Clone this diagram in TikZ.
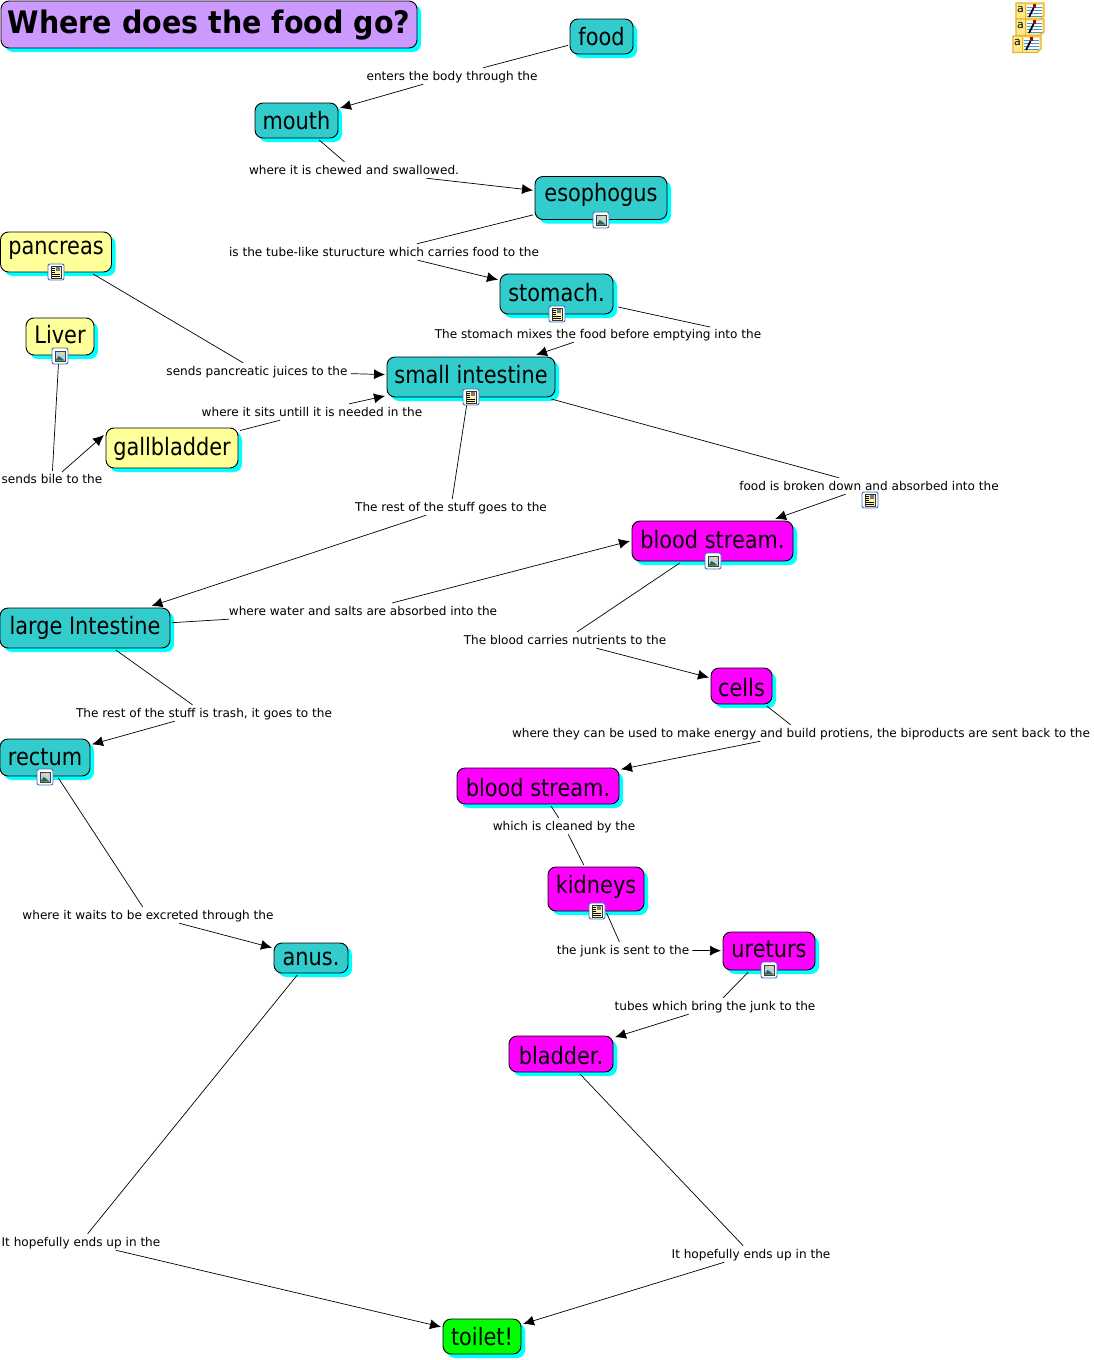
\documentclass[tikz,border=0pt]{standalone}
\usepackage{fontspec}
\setmainfont{DejaVu Sans}
\newfontfamily\conceptfont[FakeStretch=0.87]{DejaVu Sans}
\newfontfamily\titlefont[FakeStretch=0.92]{DejaVu Sans Bold}
\usetikzlibrary{arrows.meta,shadows}
\definecolor{teal1}{HTML}{33CCCC}
\definecolor{yellow1}{HTML}{FFFF99}
\definecolor{purple1}{HTML}{CC99FF}
\definecolor{cyan1}{HTML}{00FFFF}
\definecolor{magenta1}{HTML}{FF00FF}
\definecolor{green1}{HTML}{00FF00}
\definecolor{iconblue}{HTML}{3B6FC0}
\definecolor{skyblue1}{HTML}{B8D0F0}
\definecolor{hillgreen}{HTML}{2E6B3A}
\definecolor{sunyellow}{HTML}{F0E070}
\definecolor{pagetint}{HTML}{FFF4A8}
\definecolor{notegold}{HTML}{E8B428}
\definecolor{notepale}{HTML}{FFE88C}
\definecolor{notelines}{HTML}{4A90D8}
\tikzset{
  concept/.style={draw=black, line width=0.9pt, rounded corners=8pt, outer sep=2pt, inner sep=0pt,
    font=\conceptfont\fontsize{24}{28}\selectfont,
    drop shadow={shadow xshift=4pt, shadow yshift=-4pt, fill=cyan1, opacity=1}},
  digest/.style={concept, fill=teal1},
  helper/.style={concept, fill=yellow1},
  blood/.style={concept, fill=magenta1},
  basedrop/.style={text height=2*#1, text depth=0pt},
  linktext/.style={inner xsep=3pt, inner ysep=2pt, text height=10pt, text depth=2pt, font=\fontsize{12.08}{14}\selectfont},
  link/.style={line width=0.7pt, black},
  arrowlink/.style={link, ->},
  imgicon/.pic={
    \draw[iconblue, fill=white, line width=0.9pt, rounded corners=2pt] (-8,-8) rectangle (8,8);
    \fill[black!75] (-5.5,-5.5) rectangle (5.5,5.5);
    \fill[skyblue1] (-4.5,-4.5) rectangle (4.5,4.5);
    \fill[sunyellow] (2,-2.5) circle (1.8);
    \fill[hillgreen] (-4.5,4.5) -- (-1.5,0) -- (1,1.5) -- (4.5,4.5) -- cycle;
  },
  docicon/.pic={
    \draw[iconblue, fill=white, line width=0.9pt, rounded corners=2pt] (-8,-8) rectangle (8,8);
    \draw[black!80, fill=pagetint, line width=0.7pt] (-5,-6) rectangle (5,6);
    \fill[skyblue1!60!black] (0,-5) rectangle (4,-1);
    \foreach \liney in {-4,-2,0} \draw[black, line width=0.6pt] (-4,\liney) -- (-1,\liney);
    \foreach \liney in {2,4} \draw[black, line width=0.6pt] (-4,\liney) -- (4,\liney);
  },
  noteicon/.pic={
    \draw[notegold, fill=notepale, line width=1.2pt] (-14,-8) -- (14,-8) -- (14,5) -- (10,8.5) -- (-14,8.5) -- cycle;
    \draw[notegold, line width=0.7pt] (-5,-8) -- (-5,8.5);
    \node[inner sep=0pt, font=\fontsize{11}{11}\selectfont] at (-9.5,-1.5) {a};
    \fill[white] (-3,-6) rectangle (12,6);
    \foreach \liney in {-4,-1,2,5} \draw[notelines, line width=0.9pt] (-3,\liney) -- (12,\liney);
    \draw[black, line width=1.8pt] (-1,6) -- (3.5,-3);
    \fill[red!65!black] (2.5,-7) rectangle (6,-3.5);
  },
}
\begin{document}
\begin{tikzpicture}[x=1pt, y=-1pt, >={Latex[length=11pt,width=10pt]}]
    \useasboundingbox (0,0) rectangle (1094,1360);

    % 1. Title
    \node[concept, fill=purple1, minimum width=416, minimum height=47, basedrop=9pt, font=\titlefont\fontsize{31}{34}\selectfont] (title) at (209,24.5) {Where does the food go?};

    % 2. Concepts of the digestive tract
    \node[digest, minimum width=63, minimum height=35, basedrop=9pt] (food) at (601.5,36.5) {food};
    \node[digest, minimum width=83, minimum height=35, basedrop=8.5pt] (mouth) at (296.5,120.5) {mouth};
    \node[digest, minimum width=132, minimum height=43, basedrop=3.7pt] (esophogus) at (601,198) {esophogus};
    \node[digest, minimum width=113, minimum height=40, basedrop=7pt] (stomach) at (556.5,294) {stomach.};
    \node[digest, minimum width=168, minimum height=40, basedrop=6pt] (smallint) at (471,377) {small intestine};
    \node[digest, minimum width=170, minimum height=40, basedrop=6.5pt] (largeint) at (85,628) {large Intestine};
    \node[digest, minimum width=90, minimum height=37, basedrop=7.5pt] (rectum) at (45,757.5) {rectum};
    \node[digest, minimum width=74, minimum height=30, basedrop=7.5pt] (anus) at (311,958) {anus.};

    % 3. Concepts that help the digestion
    \node[helper, minimum width=111, minimum height=40, basedrop=2.5pt] (pancreas) at (56,252) {pancreas};
    \node[helper, minimum width=68, minimum height=37, basedrop=6.5pt] (liver) at (60,336.5) {Liver};
    \node[helper, minimum width=132, minimum height=40, basedrop=7pt] (gallbladder) at (172,448) {gallbladder};

    % 4. Concepts of the blood and the urine
    \node[blood, minimum width=161, minimum height=40, basedrop=7.5pt] (bloodA) at (712.5,541) {blood stream.};
    \node[blood, minimum width=61, minimum height=36, basedrop=10pt] (cells) at (741.5,686) {cells};
    \node[blood, minimum width=162, minimum height=36, basedrop=10pt] (bloodB) at (538,786) {blood stream.};
    \node[blood, minimum width=96, minimum height=44, basedrop=4.5pt] (kidneys) at (596,889) {kidneys};
    \node[blood, minimum width=92, minimum height=38, basedrop=6.5pt] (ureturs) at (769,951) {ureturs};
    \node[blood, minimum width=104, minimum height=36, basedrop=10pt] (bladder) at (561,1054) {bladder.};
    \node[concept, fill=green1, minimum width=78, minimum height=35, basedrop=9pt] (toilet) at (482,1336.5) {toilet!};

    % 5. Linking phrases
    \node[linktext] (enters) at (452,76) {enters the body through the};
    \node[linktext] (chewed) at (354,170) {where it is chewed and swallowed.};
    \node[linktext] (tube) at (384,252) {is the tube-like sturucture which carries food to the};
    \node[linktext] (mixes) at (598,334) {The stomach mixes the food before emptying into the};
    \node[linktext] (juices) at (257,371) {sends pancreatic juices to the};
    \node[linktext] (sits) at (312,412) {where it sits untill it is needed in the};
    \node[linktext] (bile) at (52,479) {sends bile to the};
    \node[linktext] (reststuff) at (451,507) {The rest of the stuff goes to the};
    \node[linktext] (broken) at (869,486) {food is broken down and absorbed into the};
    \node[linktext] (water) at (363,611) {where water and salts are absorbed into the};
    \node[linktext] (nutrients) at (565,640) {The blood carries nutrients to the};
    \node[linktext] (trash) at (204,713) {The rest of the stuff is trash, it goes to the};
    \node[linktext] (energy) at (801,733) {where they can be used to make energy and build protiens, the biproducts are sent back to the};
    \node[linktext] (cleaned) at (564,826) {which is cleaned by the};
    \node[linktext] (junk) at (623,950) {the junk is sent to the};
    \node[linktext] (tubes) at (715,1006) {tubes which bring the junk to the};
    \node[linktext] (excreted) at (148,915) {where it waits to be excreted through the};
    \node[linktext] (endsA) at (81,1242) {It hopefully ends up in the};
    \node[linktext] (endsB) at (751,1254) {It hopefully ends up in the};

    % free ends of the connectors that leave a box off centre
    \coordinate (stomachout) at (618,307);
    \coordinate (mixesin) at (710,327);
    \coordinate (biletop) at (62,472);
    \coordinate (gallin) at (104,435);
    \coordinate (waterout) at (392,603);

    % 6. Connectors
    \draw[link] (food) -- (enters);
    \draw[arrowlink] (enters) -- (mouth);
    \draw[link] (mouth) -- (chewed);
    \draw[arrowlink] (chewed) -- (esophogus);
    \draw[link] (esophogus) -- (tube);
    \draw[arrowlink] (tube) -- (stomach);
    \draw[link] (stomachout) -- (mixesin);
    \draw[arrowlink] (mixes) -- (smallint);
    \draw[link] (pancreas) -- (juices);
    \draw[arrowlink] (juices) -- (smallint);
    \draw[link] (liver) -- (bile);
    \draw[arrowlink] (biletop) -- (gallin);
    \draw[link] (gallbladder) -- (sits);
    \draw[arrowlink] (sits) -- (smallint);
    \draw[link] (smallint) -- (reststuff);
    \draw[arrowlink] (reststuff) -- (largeint);
    \draw[link] (smallint) -- (broken);
    \draw[arrowlink] (broken) -- (bloodA);
    \draw[link] (largeint) -- (water);
    \draw[arrowlink] (waterout) -- (bloodA.west);
    \draw[link] (bloodA) -- (nutrients);
    \draw[arrowlink] (nutrients) -- (cells);
    \draw[link] (cells) -- (energy);
    \draw[arrowlink] (energy) -- (bloodB);
    \draw[link] (bloodB) -- (cleaned);
    \draw[link] (cleaned) -- (kidneys);
    \draw[link] (kidneys) -- (junk);
    \draw[arrowlink] (junk) -- (ureturs);
    \draw[link] (ureturs) -- (tubes);
    \draw[arrowlink] (tubes) -- (bladder);
    \draw[link] (largeint) -- (trash);
    \draw[arrowlink] (trash) -- (rectum);
    \draw[link] (rectum) -- (excreted);
    \draw[arrowlink] (excreted) -- (anus);
    \draw[link] (anus) -- (endsA);
    \draw[arrowlink] (endsA) -- (toilet);
    \draw[link] (bladder) -- (endsB);
    \draw[arrowlink] (endsB) -- (toilet);

    % 7. Resource icons
    \foreach \px/\py in {601/220, 60/356, 713/561, 45/777, 769/970}
        \pic at (\px,\py) {imgicon};
    \foreach \px/\py in {557/314, 471/397, 56/272, 870/500, 597/911}
        \pic at (\px,\py) {docicon};
    \foreach \px/\py in {1030/11, 1030/27, 1027/44}
        \pic at (\px,\py) {noteicon};
\end{tikzpicture}
\end{document}
